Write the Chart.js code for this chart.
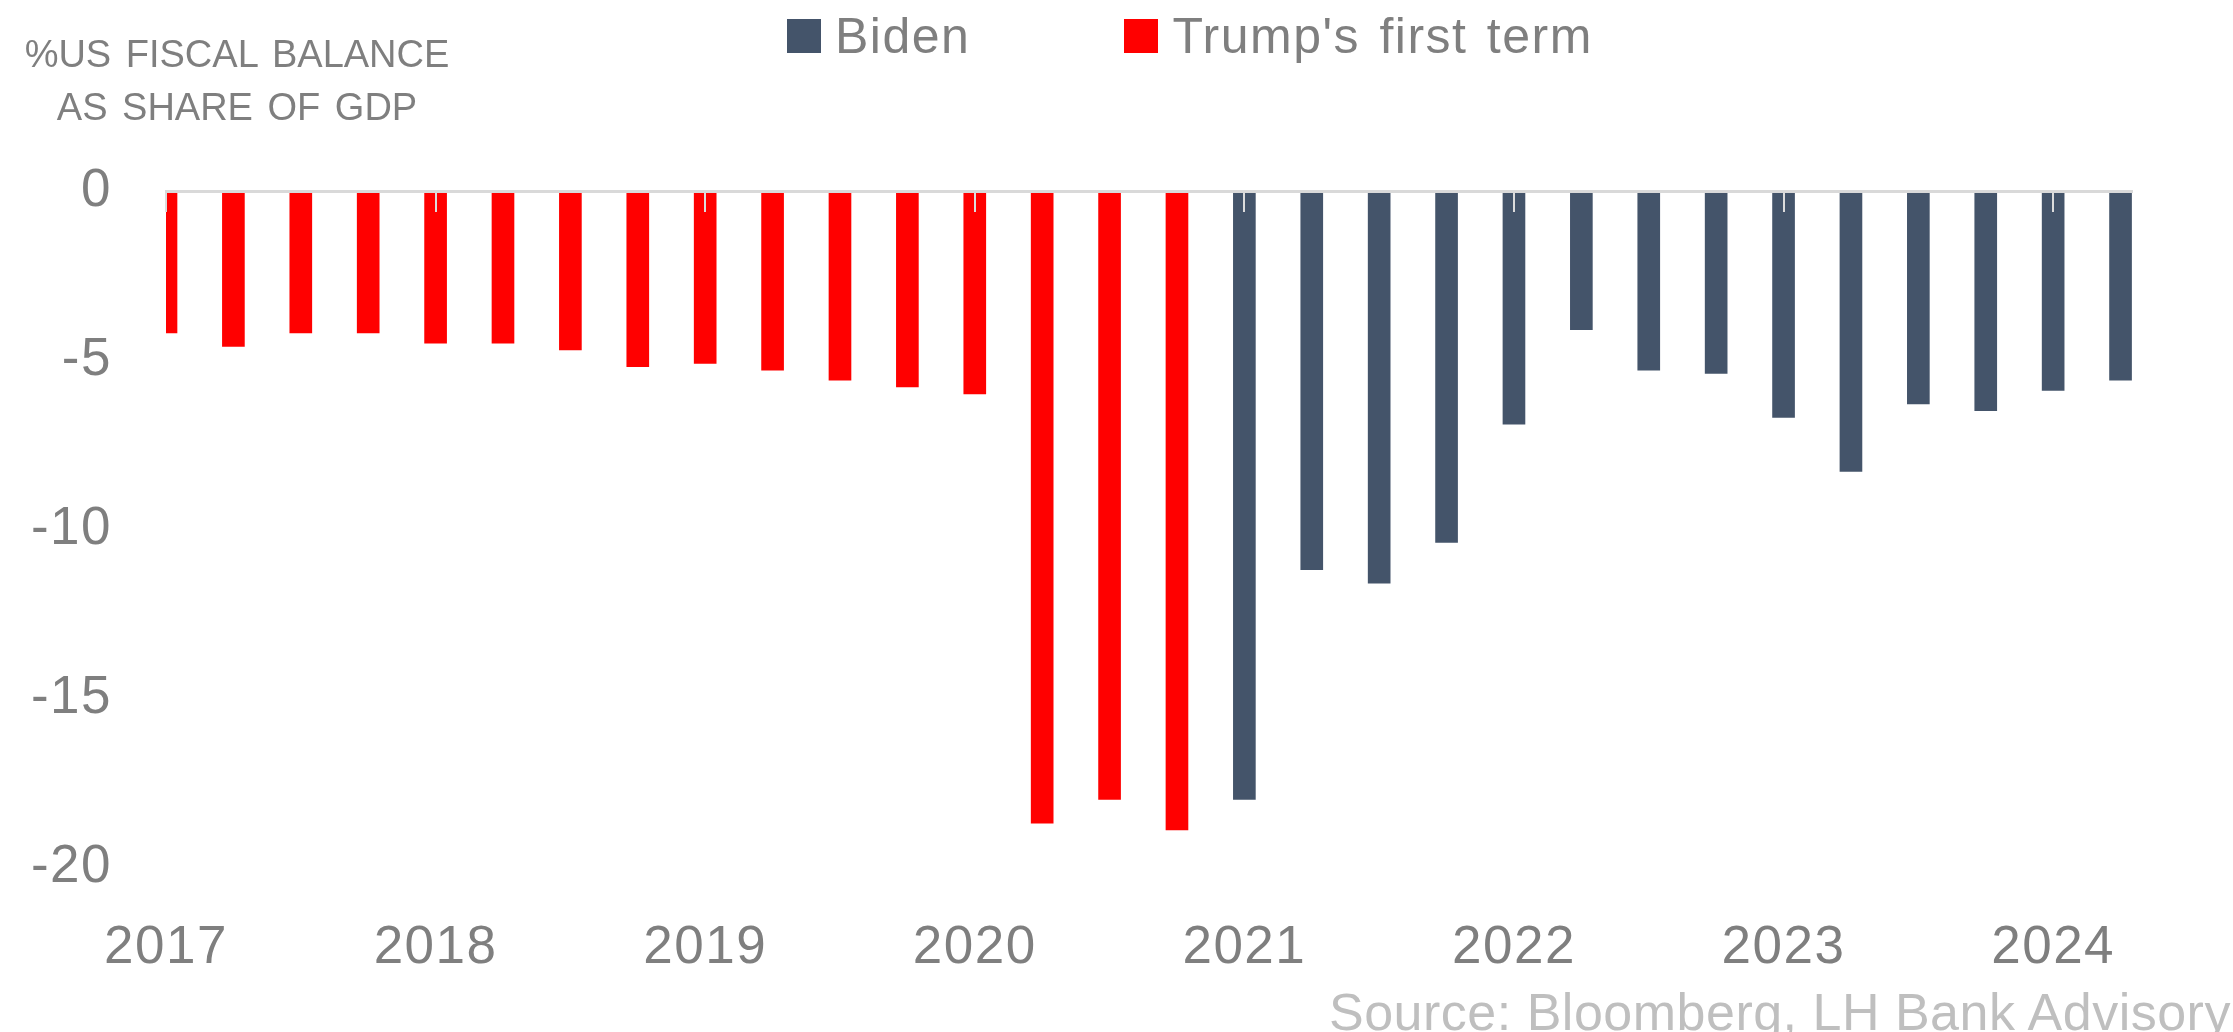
<!DOCTYPE html>
<html>
<head>
<meta charset="utf-8">
<script src="https://cdn.jsdelivr.net/npm/chart.js"></script>
<style>
  body { margin: 0; background: #ffffff; overflow: hidden; }
  #wrap { position: relative; width: 2233px; height: 1032px; overflow: hidden;
          font-family: 'Liberation Sans', Arial, sans-serif; color: #7f7f7f; }
  #chart { position: absolute; left: 0; top: 0; }
  .title { position: absolute; left: 24px; top: 28px; width: 426px; text-align: center;
           font-size: 38px; line-height: 53px; word-spacing: 4px; }
  #legend { position: absolute; left: 787px; top: 6px; display: flex; gap: 154px;
            font-size: 50px; line-height: 60px; letter-spacing: 1.5px; word-spacing: 4px; }
  #legend .item { display: flex; align-items: center; }
  #legend .swatch { width: 34px; height: 34px; margin-right: 14px; }
  .source { position: absolute; left: 1329px; top: 982px; font-size: 52px; line-height: 60px;
            color: #bfbfbf; white-space: nowrap; letter-spacing: 0.5px; }
</style>
</head>
<body>
<div id="wrap">
  <canvas id="chart" width="2233" height="1032"></canvas>
  <div class="title">%US FISCAL BALANCE<br>AS SHARE OF GDP</div>
  <div id="legend"></div>
  <div class="source">Source: Bloomberg, LH Bank Advisory</div>
</div>
<script>
// quarterly fiscal balance, % of GDP, 2017 Q1 .. 2024 Q2
const quarterLabels = [
  '2017 Q1', '2017 Q2', '2017 Q3', '2017 Q4',
  '2018 Q1', '2018 Q2', '2018 Q3', '2018 Q4',
  '2019 Q1', '2019 Q2', '2019 Q3', '2019 Q4',
  '2020 Q1', '2020 Q2', '2020 Q3', '2020 Q4',
  '2021 Q1', '2021 Q2', '2021 Q3', '2021 Q4',
  '2022 Q1', '2022 Q2', '2022 Q3', '2022 Q4',
  '2023 Q1', '2023 Q2', '2023 Q3', '2023 Q4',
  '2024 Q1', '2024 Q2'
];
const yearLabels = ['2017', '2018', '2019', '2020', '2021', '2022', '2023', '2024'];

// 2017 Q1 .. 2020 Q4
const trumpBalance = [-4.2, -4.6, -4.2, -4.2, -4.5, -4.5, -4.7, -5.2,
                      -5.1, -5.3, -5.6, -5.8, -6.0, -18.7, -18.0, -18.9];
// 2021 Q1 .. 2024 Q2
const bidenBalance = [-18.0, -11.2, -11.6, -10.4, -6.9, -4.1, -5.3, -5.4,
                      -6.7, -8.3, -6.3, -6.5, -5.9, -5.6];

const grey = '#7f7f7f';
const axisFont = { family: "'Liberation Sans', Arial, sans-serif", size: 53 };
const xMax = quarterLabels.length - 1 + 0.17;

// bars sit on a linear axis so each quarter keeps its own x position
const toPoints = (values, start) => values.map((v, i) => ({ x: start + i, y: v }));

// a little tracking on the axis labels
const spacedLabels = {
  id: 'spacedLabels',
  beforeDraw(chart) { chart.ctx.letterSpacing = '1.5px'; }
};

const ctx = document.getElementById('chart').getContext('2d');
const chart = new Chart(ctx, {
  type: 'bar',
  data: {
    datasets: [
      {
        label: 'Biden',
        data: toPoints(bidenBalance, trumpBalance.length),
        backgroundColor: '#44546a'
      },
      {
        label: "Trump's first term",
        data: toPoints(trumpBalance, 0),
        backgroundColor: '#ff0000'
      }
    ]
  },
  plugins: [spacedLabels],
  options: {
    responsive: false,
    animation: false,
    layout: { padding: { top: 191, right: 101, bottom: 61, left: 0 } },
    datasets: { bar: { barThickness: 22, grouped: false } },
    plugins: {
      legend: { display: false },
      tooltip: { enabled: false }
    },
    scales: {
      // zero line with the small year marks hanging from it, drawn over the bars
      x: {
        type: 'linear',
        position: { y: 0 },
        offset: false,
        min: 0,
        max: xMax,
        ticks: { display: false, stepSize: 4, includeBounds: false },
        grid: { z: 1, offset: false, drawOnChartArea: false, drawTicks: true, tickLength: 19, color: '#dcdcdc', lineWidth: 2 },
        border: { z: 1, display: true, color: '#d9d9d9', width: 3 }
      },
      // year labels along the bottom
      x2: {
        type: 'linear',
        position: 'bottom',
        offset: false,
        min: 0,
        max: xMax,
        ticks: {
          stepSize: 4,
          includeBounds: false,
          padding: 42,
          color: grey,
          font: axisFont,
          maxRotation: 0,
          autoSkip: false,
          callback: v => yearLabels[v / 4]
        },
        grid: { display: false, offset: false },
        border: { display: false },
        afterFit: s => { s.height = 104; }
      },
      y: {
        min: -20,
        max: 0,
        ticks: { stepSize: 5, padding: 46, color: grey, font: axisFont },
        grid: { display: false },
        border: { display: false },
        afterFit: s => { s.width = 166; }
      }
    }
  }
});

// legend built from the datasets
const legend = document.getElementById('legend');
chart.data.datasets.forEach(ds => {
  const item = document.createElement('div');
  item.className = 'item';
  const swatch = document.createElement('span');
  swatch.className = 'swatch';
  swatch.style.background = ds.backgroundColor;
  const text = document.createElement('span');
  text.textContent = ds.label;
  item.appendChild(swatch);
  item.appendChild(text);
  legend.appendChild(item);
});
</script>
</body>
</html>
